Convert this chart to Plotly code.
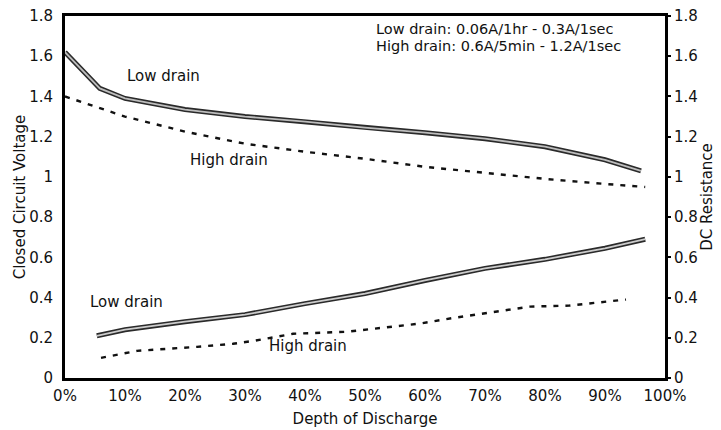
import plotly.graph_objects as go

# Depth of discharge (%) and values
low_v_x = [0, 5.8, 10, 20, 30, 40, 50, 60, 70, 80, 90, 96]
low_v_y = [1.62, 1.44, 1.39, 1.335, 1.30, 1.275, 1.245, 1.22, 1.19, 1.15, 1.085, 1.03]

high_v_x = [0, 5, 10, 20, 30, 40, 50, 60, 70, 80, 90, 96.7]
high_v_y = [1.40, 1.35, 1.30, 1.225, 1.165, 1.125, 1.09, 1.05, 1.02, 0.99, 0.965, 0.95]

low_r_x = [5.3, 10, 20, 30, 40, 50, 60, 70, 80, 90, 96.7]
low_r_y = [0.21, 0.24, 0.28, 0.315, 0.37, 0.42, 0.485, 0.545, 0.59, 0.645, 0.69]

high_r_x = [6, 12, 22, 28, 31.5, 38, 47, 53, 59, 65, 71.5, 77.5, 84, 90, 93.5]
high_r_y = [0.10, 0.135, 0.155, 0.17, 0.185, 0.22, 0.23, 0.25, 0.27, 0.30, 0.33, 0.355, 0.36, 0.38, 0.39]

x_ticks = [0, 10, 20, 30, 40, 50, 60, 70, 80, 90, 100]
x_tick_text = ["0%", "10%", "20%", "30%", "40%", "50%", "60%", "70%", "80%", "90%", "100%"]
y_ticks = [0, 0.2, 0.4, 0.6, 0.8, 1.0, 1.2, 1.4, 1.6, 1.8]
y_tick_text = ["0", "0.2", "0.4", "0.6", "0.8", "1", "1.2", "1.4", "1.6", "1.8"]

FONT = "DejaVu Sans, Liberation Sans, Arial, sans-serif"

fig = go.Figure()

# Low drain voltage: double line (dark outline, light core)
fig.add_trace(go.Scatter(x=low_v_x, y=low_v_y, mode="lines",
                         line=dict(color="#2a2a2a", width=5), hoverinfo="skip"))
fig.add_trace(go.Scatter(x=low_v_x, y=low_v_y, mode="lines",
                         line=dict(color="#bdbdbd", width=1.8)))
# High drain voltage: dashed
fig.add_trace(go.Scatter(x=high_v_x, y=high_v_y, mode="lines",
                         line=dict(color="#111111", width=2.4, dash="5px,7px")))
# Low drain resistance
fig.add_trace(go.Scatter(x=low_r_x, y=low_r_y, mode="lines", yaxis="y2",
                         line=dict(color="#2a2a2a", width=5), hoverinfo="skip"))
fig.add_trace(go.Scatter(x=low_r_x, y=low_r_y, mode="lines", yaxis="y2",
                         line=dict(color="#cccccc", width=1.8)))
# High drain resistance
fig.add_trace(go.Scatter(x=high_r_x, y=high_r_y, mode="lines", yaxis="y2",
                         line=dict(color="#111111", width=2.4, dash="5px,7px")))

labels = [
    (10.0, 1.50, "Low drain"),
    (20.5, 1.085, "High drain"),
    (3.8, 0.377, "Low drain"),
    (33.7, 0.158, "High drain"),
]

annotations = []
for xv, yv, txt in labels:
    annotations.append(dict(x=xv, y=yv, xref="x", yref="y", text=txt,
                            showarrow=False, xanchor="left", yanchor="middle",
                            font=dict(family=FONT, size=15, color="#111")))

notes = [
    (0.964, "Low drain: 0.06A/1hr - 0.3A/1sec"),
    (0.917, "High drain: 0.6A/5min - 1.2A/1sec"),
]
for yv, txt in notes:
    annotations.append(dict(x=0.515, y=yv, xref="paper", yref="paper", text=txt,
                            showarrow=False, xanchor="left", yanchor="middle",
                            font=dict(family=FONT, size=14.5, color="#111")))

# page body has an 8px default margin, so the figure is 8px smaller each way
fig.update_layout(
    width=713, height=422,
    margin=dict(l=57, r=56, t=8, b=52),
    paper_bgcolor="white", plot_bgcolor="white",
    showlegend=False,
    font=dict(family=FONT, size=15, color="#111"),
    xaxis=dict(range=[0, 100], tickvals=x_ticks, ticktext=x_tick_text,
               showgrid=False, zeroline=False, automargin=False,
               ticklabeloverflow="allow",
               showline=True, linecolor="#000", linewidth=3, mirror=True,
               ticks="", tickfont=dict(size=15), ticklabelstandoff=2,
               title=dict(text="Depth of Discharge", font=dict(size=15), standoff=10)),
    yaxis=dict(range=[0, 1.8], tickvals=y_ticks, ticktext=y_tick_text,
               showgrid=False, zeroline=False, automargin=False,
               ticklabeloverflow="allow",
               showline=True, linecolor="#000", linewidth=3,
               ticks="", ticklabelstandoff=6,
               tickfont=dict(size=15),
               title=dict(text="Closed Circuit Voltage", font=dict(size=15), standoff=0)),
    yaxis2=dict(range=[0, 1.8], tickvals=y_ticks, ticktext=y_tick_text,
                overlaying="y", side="right", anchor="x",
                showgrid=False, zeroline=False, automargin=False,
                ticklabeloverflow="allow",
                showline=True, linecolor="#000", linewidth=3,
                ticks="outside", ticklen=3, tickwidth=2, tickcolor="#000",
                tickfont=dict(size=15),
                title=dict(text="DC Resistance", font=dict(size=15), standoff=4)),
    annotations=annotations,
)

fig.write_html("out.html")
